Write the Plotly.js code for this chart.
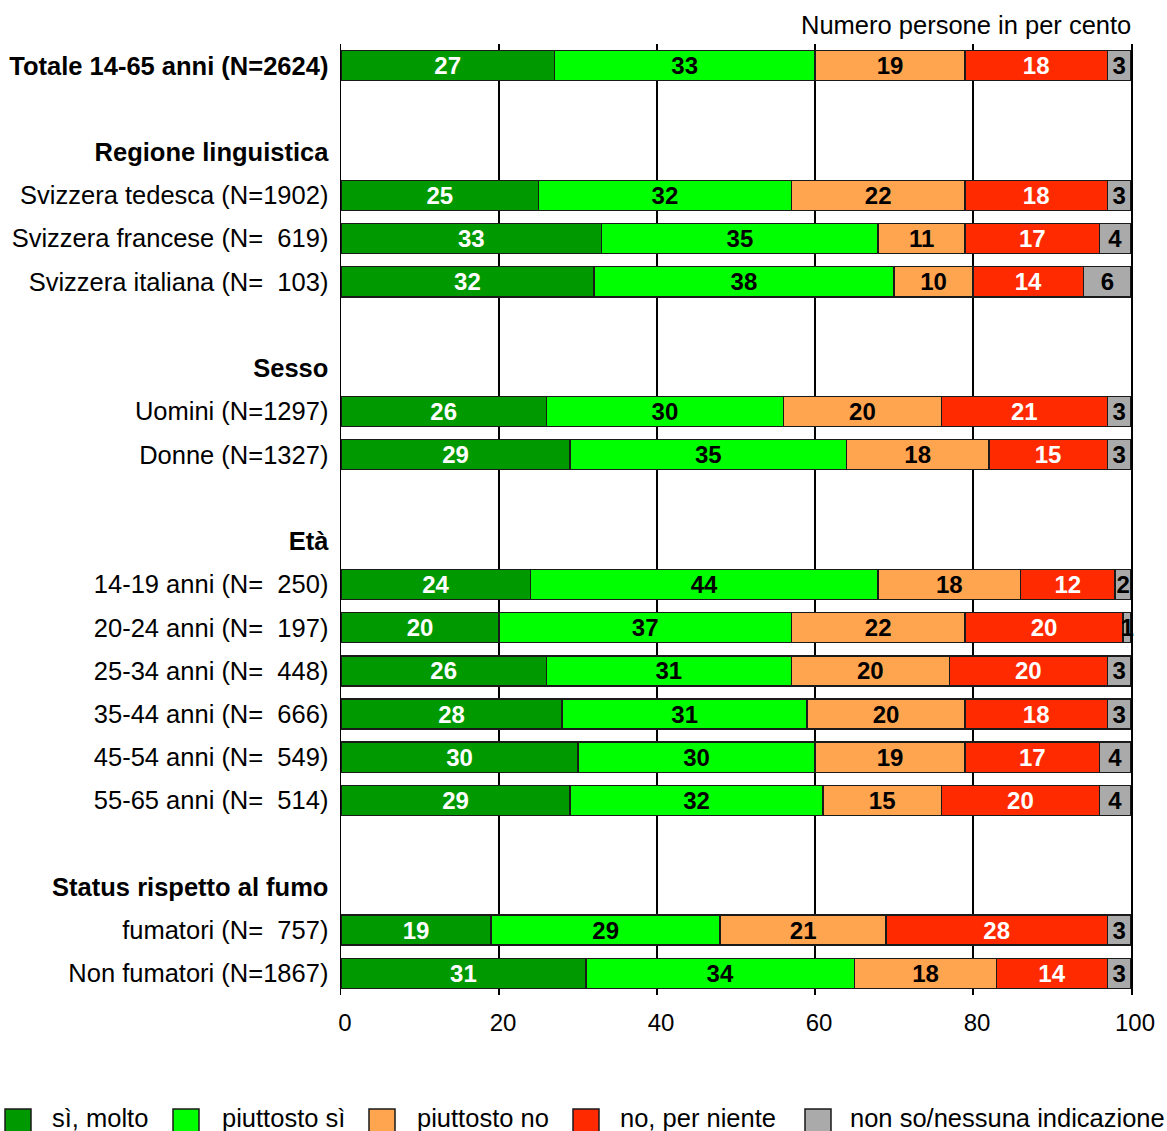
<!DOCTYPE html>
<html>
<head>
<meta charset="utf-8">
<script src="https://cdn.plot.ly/plotly-3.0.1.min.js"></script>
<style>html,body{margin:0;padding:0;background:#fff;}#chart{width:1167px;height:1131px;}</style>
</head>
<body>
<div id="chart"></div>
<script>
const categories = [
  "Totale 14-65 anni (N=2624)", "",
  "Regione linguistica",
  "Svizzera tedesca (N=1902)",
  "Svizzera francese (N=\u00a0\u00a0619)",
  "Svizzera italiana (N=\u00a0\u00a0103)", "",
  "Sesso",
  "Uomini (N=1297)",
  "Donne (N=1327)", "",
  "Età",
  "14-19 anni (N=\u00a0\u00a0250)",
  "20-24 anni (N=\u00a0\u00a0197)",
  "25-34 anni (N=\u00a0\u00a0448)",
  "35-44 anni (N=\u00a0\u00a0666)",
  "45-54 anni (N=\u00a0\u00a0549)",
  "55-65 anni (N=\u00a0\u00a0514)", "",
  "Status rispetto al fumo",
  "fumatori (N=\u00a0\u00a0757)",
  "Non fumatori (N=1867)"
];
const boldRows = ["Totale 14-65 anni (N=2624)", "Regione linguistica", "Sesso", "Età", "Status rispetto al fumo"];

const seriesNames = ["sì, molto", "piuttosto sì", "piuttosto no", "no, per niente", "non so/nessuna indicazione"];
const siMolto     = [27,null,null,25,33,32,null,null,26,29,null,null,24,20,26,28,30,29,null,null,19,31];
const piuttostoSi = [33,null,null,32,35,38,null,null,30,35,null,null,44,37,31,31,30,32,null,null,29,34];
const piuttostoNo = [19,null,null,22,11,10,null,null,20,18,null,null,18,22,20,20,19,15,null,null,21,18];
const noNiente    = [18,null,null,18,17,14,null,null,21,15,null,null,12,20,20,18,17,20,null,null,28,14];
const nonSo       = [3,null,null,3,4,6,null,null,3,3,null,null,2,1,3,3,4,4,null,null,3,3];
const xTicks = [0, 20, 40, 60, 80, 100];
const axisNote = "Numero persone in per cento";

const seriesValues = [siMolto, piuttostoSi, piuttostoNo, noNiente, nonSo];
const colors = ["#009900", "#00ff00", "#ffa54f", "#ff2a00", "#aaaaaa"];
const textColors = ["#ffffff", "#000000", "#000000", "#ffffff", "#000000"];

const FONT = "'Liberation Sans', Arial, Helvetica, sans-serif";
const LBL = 25.5;
const yIdx = categories.map((_, i) => i);

const traces = seriesValues.map((vals, k) => ({
  type: "bar",
  orientation: "h",
  name: seriesNames[k],
  y: yIdx,
  x: vals,
  text: vals.map(v => v == null ? "" : String(v)),
  textposition: "inside",
  insidetextanchor: "middle",
  textangle: 0,
  constraintext: "none",
  cliponaxis: false,
  textfont: {family: FONT, size: 24, color: textColors[k], weight: "bold"},
  marker: {color: colors[k], line: {color: "#1a1a1a", width: 1.5}},
  hoverinfo: "skip",
  showlegend: false
}));

const W = 1167, H = 1131;
const mL = 341, mR = 36, mT = 44, mB = 136;
const plotW = W - mL - mR, plotH = H - mT - mB;
const px2x = p => (p - mL) / plotW;
const py2y = p => (H - mB - p) / plotH;

const legendBoxX = [5, 173, 369, 573, 805];
const legendTextX = [50, 220, 415, 618, 848];
const shapes = [];
const annotations = [];
seriesNames.forEach((n, k) => {
  shapes.push({
    type: "rect", xref: "paper", yref: "paper",
    x0: px2x(legendBoxX[k]), x1: px2x(legendBoxX[k] + 26),
    y0: py2y(1109), y1: py2y(1135),
    fillcolor: colors[k], line: {color: "#1a1a1a", width: 1.5}
  });
  annotations.push({
    xref: "paper", yref: "paper",
    x: px2x(legendTextX[k]), y: py2y(1118),
    xanchor: "left", yanchor: "middle",
    text: n, showarrow: false,
    font: {family: FONT, size: LBL, color: "#000"}
  });
});
annotations.push({
  xref: "paper", yref: "paper", x: 1, y: py2y(25), xshift: 2,
  xanchor: "right", yanchor: "middle", text: axisNote, showarrow: false,
  font: {family: FONT, size: LBL, color: "#000"}
});

const layout = {
  width: W, height: H,
  margin: {l: mL, r: mR, t: mT, b: mB, pad: 0},
  barmode: "stack",
  bargap: 0.305,
  paper_bgcolor: "#fff", plot_bgcolor: "#fff",
  showlegend: false,
  font: {family: FONT, size: LBL, color: "#000"},
  uniformtext: {minsize: 24, mode: "show"},
  xaxis: {
    range: [0, 100], tickvals: xTicks, ticktext: xTicks.map(String),
    showgrid: true, gridcolor: "#000", gridwidth: 1.5,
    zeroline: false, showline: false,
    ticks: "outside", ticklen: 6, tickcolor: "rgba(0,0,0,0)",
    ticklabelshift: 4,
    tickfont: {family: FONT, size: 24, color: "#000"},
    fixedrange: true
  },
  yaxis: {
    range: [categories.length - 0.5, -0.5],
    tickvals: yIdx,
    ticktext: categories.map(c => boldRows.includes(c) ? "<b>" + c + "</b>" : c),
    showgrid: false, zeroline: false,
    showline: true, mirror: true, linecolor: "#000", linewidth: 1.5,
    ticks: "outside", ticklen: 6, tickcolor: "rgba(0,0,0,0)",
    tickfont: {family: FONT, size: LBL, color: "#000"},
    fixedrange: true
  },
  shapes: shapes,
  annotations: annotations
};

Plotly.newPlot("chart", traces, layout, {displayModeBar: false, staticPlot: true});
</script>
</body>
</html>
